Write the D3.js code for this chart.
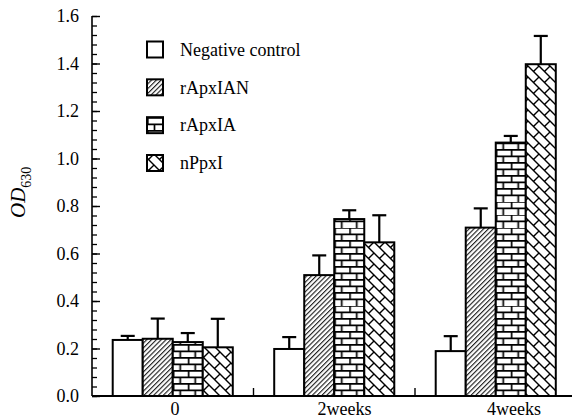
<!DOCTYPE html>
<html>
<head>
<meta charset="utf-8">
<script src="https://cdn.jsdelivr.net/npm/d3@7"></script>
<style>
  body { margin: 0; background: #fff; }
  svg text { font-family: 'Liberation Serif'; fill: #000; }
</style>
</head>
<body>
<svg id="chart" width="572" height="420"></svg>
<script>
// data
const categories = ['0', '2weeks', '4weeks'];
const seriesNames = ['Negative control', 'rApxIAN', 'rApxIA', 'nPpxI'];
const negativeControl = [0.236, 0.198, 0.189];
const rApxIAN = [0.241, 0.509, 0.709];
const rApxIA = [0.227, 0.745, 1.067];
const nPpxI = [0.205, 0.647, 1.397];
const errNegative = [0.017, 0.050, 0.063];
const errApxIAN = [0.085, 0.083, 0.081];
const errApxIA = [0.038, 0.037, 0.028];
const errPpxI = [0.120, 0.114, 0.119];
const yTicks = [0, 0.2, 0.4, 0.6, 0.8, 1.0, 1.2, 1.4, 1.6];

const values = [negativeControl, rApxIAN, rApxIA, nPpxI];
const errors = [errNegative, errApxIAN, errApxIA, errPpxI];
const serif = "'Liberation Serif'";

const svg = d3.select('#chart');
const x0 = 92, yBase = 396, yTop = 16;

const x = d3.scaleBand().domain(categories).range([x0, 576.5]).padding(0);
const xs = d3.scaleBand().domain(seriesNames).range([0, x.bandwidth()])
  .paddingInner(0).paddingOuter(0.69);
const y = d3.scaleLinear().domain([0, 1.6]).range([yBase, yTop]);
// the category labels in the figure sit a bit right of the group centres
const xLabel = d3.scalePoint().domain(categories).range([175, 514]);

const defs = svg.append('defs');

// diagonal hatch ////
const hatch = defs.append('pattern').attr('id', 'hatch')
  .attr('patternUnits', 'userSpaceOnUse').attr('width', 3.4).attr('height', 3.4)
  .attr('patternTransform', 'rotate(45)');
hatch.append('rect').attr('width', 3.4).attr('height', 3.4).attr('fill', '#fff');
hatch.append('line').attr('x1', 0.6).attr('y1', 0).attr('x2', 0.6).attr('y2', 3.4)
  .attr('stroke', '#000').attr('stroke-width', 1);

// chain-like cross hatch for nPpxI
const cs = 11;
const chain = defs.append('pattern').attr('id', 'chain')
  .attr('patternUnits', 'userSpaceOnUse').attr('width', cs).attr('height', cs);
chain.append('rect').attr('width', cs).attr('height', cs).attr('fill', '#fff');
chain.append('path')
  .attr('d', `M-1,-1L${cs + 1},${cs + 1}M${cs - 1},-1L${cs + 1},1M-1,${cs - 1}L1,${cs + 1}M${cs},0L${cs / 2},${cs / 2}`)
  .attr('stroke', '#000').attr('stroke-width', 1.4).attr('fill', 'none');

// brick pattern, one per bar so the joints line up with the bar edge
function brick(id, px, py) {
  const w = 15, h = 13;
  const p = defs.append('pattern').attr('id', id)
    .attr('patternUnits', 'userSpaceOnUse')
    .attr('x', px).attr('y', py).attr('width', w).attr('height', h);
  p.append('rect').attr('width', w).attr('height', h).attr('fill', '#fff');
  p.append('path')
    .attr('d', `M0,0.8H${w}M0,${h / 2 + 0.8}H${w}M0.8,0V${h / 2 + 0.8}M${w / 2},${h / 2 + 0.8}V${h}`)
    .attr('stroke', '#000').attr('stroke-width', 1.7).attr('fill', 'none');
}

function fillFor(si, ci, bx) {
  if (si === 0) return '#fff';
  if (si === 1) return 'url(#hatch)';
  if (si === 2) { brick('brick' + ci, bx, yBase); return 'url(#brick' + ci + ')'; }
  return 'url(#chain)';
}

// bars
const bars = [];
seriesNames.forEach((s, si) => {
  categories.forEach((c, ci) => {
    bars.push({ s, si, c, ci, v: values[si][ci], e: errors[si][ci] });
  });
});

svg.append('g').selectAll('rect').data(bars).join('rect')
  .attr('x', d => x(d.c) + xs(d.s))
  .attr('y', d => y(d.v))
  .attr('width', xs.bandwidth())
  .attr('height', d => y(0) - y(d.v))
  .attr('fill', d => fillFor(d.si, d.ci, x(d.c) + xs(d.s)))
  .attr('stroke', '#000').attr('stroke-width', 2);

// error bars (upper half)
const eg = svg.append('g').attr('stroke', '#000').attr('stroke-width', 2.2);
bars.forEach(d => {
  const cx = x(d.c) + xs(d.s) + xs.bandwidth() / 2;
  eg.append('line').attr('x1', cx).attr('x2', cx).attr('y1', y(d.v)).attr('y2', y(d.v + d.e));
  eg.append('line').attr('x1', cx - 7).attr('x2', cx + 7).attr('y1', y(d.v + d.e)).attr('y2', y(d.v + d.e));
});

// y axis: minor ticks, then major ticks with labels
const minor = svg.append('g').attr('transform', `translate(${x0},0)`)
  .call(d3.axisLeft(y).tickValues(d3.range(0, 1.6001, 0.04)).tickSize(-5).tickFormat(''));
minor.select('.domain').remove();
minor.selectAll('line').attr('stroke-width', 1.3);

const yAxis = svg.append('g').attr('transform', `translate(${x0},0)`)
  .call(d3.axisLeft(y).tickValues(yTicks).tickSize(-8).tickPadding(13)
    .tickFormat(d3.format('.1f')));
yAxis.attr('font-family', null).attr('font-size', 18);
yAxis.select('.domain').attr('d', `M0,${yTop}V${yBase}`).attr('stroke-width', 1.6);
yAxis.selectAll('line').attr('stroke-width', 1.4);
yAxis.selectAll('text').attr('font-size', 18).style('font-family', serif);

// x axis line and separators between groups
svg.append('line').attr('x1', x0).attr('x2', 572).attr('y1', yBase).attr('y2', yBase)
  .attr('stroke', '#000').attr('stroke-width', 1.8);
svg.append('g').selectAll('line').data(categories.slice(1)).join('line')
  .attr('x1', d => x(d)).attr('x2', d => x(d))
  .attr('y1', yBase).attr('y2', yBase - 8)
  .attr('stroke', '#000').attr('stroke-width', 1.4);

svg.append('g').selectAll('text').data(categories).join('text')
  .attr('x', d => xLabel(d)).attr('y', 415)
  .attr('text-anchor', 'middle').attr('font-size', 18)
  .style('font-family', serif)
  .text(d => d);

// y title OD630
const title = svg.append('text')
  .attr('transform', 'translate(25,218) rotate(-90)')
  .attr('text-anchor', 'start')
  .style('font-family', serif);
title.append('tspan').attr('font-size', 21).attr('font-style', 'italic').text('OD');
title.append('tspan').attr('font-size', 14).attr('dy', 6).text('630');

// legend
const ly = d3.scalePoint().domain(seriesNames).range([49.5, 163]);
brick('brickLegend', 147, 0);
const legendFill = ['#fff', 'url(#hatch)', 'url(#brickLegend)', 'url(#chain)'];
const lg = svg.append('g');
seriesNames.forEach((s, i) => {
  lg.append('rect').attr('x', 147).attr('y', ly(s) - 8).attr('width', 16).attr('height', 16)
    .attr('fill', legendFill[i]).attr('stroke', '#000').attr('stroke-width', 2);
  lg.append('text').attr('x', 180).attr('y', ly(s)).attr('dy', '0.35em')
    .attr('font-size', 18).style('font-family', serif).text(s);
});
</script>
</body>
</html>
